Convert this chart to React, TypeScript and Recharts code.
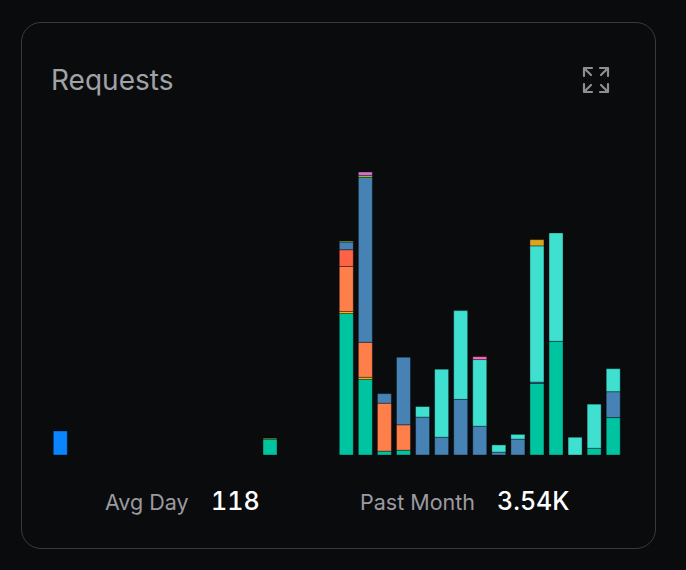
import React from 'react';
import { BarChart, XAxis, YAxis, Bar } from 'recharts';

// 30 days, only the last half has real traffic
const days = [
  'd1', 'd2', 'd3', 'd4', 'd5', 'd6', 'd7', 'd8', 'd9', 'd10',
  'd11', 'd12', 'd13', 'd14', 'd15', 'd16', 'd17', 'd18', 'd19', 'd20',
  'd21', 'd22', 'd23', 'd24', 'd25', 'd26', 'd27', 'd28', 'd29', 'd30',
];

const legacy = [50, 0, 0, 0, 0, 0, 0, 0, 0, 0, 0, 0, 0, 0, 0, 0, 0, 0, 0, 0, 0, 0, 0, 0, 0, 0, 0, 0, 0, 0];
const green = [0, 0, 0, 0, 0, 0, 0, 0, 0, 0, 0, 33, 0, 0, 0, 295, 158, 8, 10, 0, 0, 0, 0, 0, 0, 149, 237, 0, 14, 78];
const yellow = [0, 0, 0, 0, 0, 0, 0, 0, 0, 0, 0, 0, 0, 0, 0, 4, 4, 0, 0, 0, 0, 0, 0, 0, 0, 0, 0, 0, 0, 0];
const orange = [0, 0, 0, 0, 0, 0, 0, 0, 0, 0, 0, 0, 0, 0, 0, 94, 73, 100, 53, 0, 0, 0, 0, 0, 0, 0, 0, 0, 0, 0];
const red = [0, 0, 0, 0, 0, 0, 0, 0, 0, 0, 0, 0, 0, 0, 0, 35, 0, 0, 0, 0, 0, 0, 0, 0, 0, 0, 0, 0, 0, 0];
const steel = [0, 0, 0, 0, 0, 0, 0, 0, 0, 0, 0, 0, 0, 0, 0, 16, 344, 20, 141, 79, 37, 116, 60, 6, 33, 3, 0, 0, 0, 54];
const cyan = [0, 0, 0, 0, 0, 0, 0, 0, 0, 0, 0, 0, 0, 0, 0, 0, 0, 0, 0, 22, 142, 185, 139, 15, 10, 284, 226, 37, 92, 48];
const lime = [0, 0, 0, 0, 0, 0, 0, 0, 0, 0, 0, 2, 0, 0, 0, 2, 4, 0, 0, 0, 0, 0, 0, 0, 0, 0, 0, 0, 0, 0];
const orchid = [0, 0, 0, 0, 0, 0, 0, 0, 0, 0, 0, 0, 0, 0, 0, 0, 7, 0, 0, 0, 0, 0, 0, 0, 0, 0, 0, 0, 0, 0];
const pink = [0, 0, 0, 0, 0, 0, 0, 0, 0, 0, 0, 0, 0, 0, 0, 0, 0, 0, 0, 0, 0, 0, 6, 0, 0, 0, 0, 0, 0, 0];
const gold = [0, 0, 0, 0, 0, 0, 0, 0, 0, 0, 0, 0, 0, 0, 0, 0, 0, 0, 0, 0, 0, 0, 0, 0, 0, 13, 0, 0, 0, 0];

const series = [
  { key: 'legacy', color: '#0a84ff' },
  { key: 'green', color: '#00c3a0' },
  { key: 'yellow', color: '#ffc125' },
  { key: 'orange', color: '#ff7f4a' },
  { key: 'red', color: '#ff6347' },
  { key: 'steel', color: '#4682b4' },
  { key: 'cyan', color: '#40e0d0' },
  { key: 'lime', color: '#9acd32' },
  { key: 'orchid', color: '#da70d6' },
  { key: 'pink', color: '#ff69b4' },
  { key: 'gold', color: '#daa520' },
];

const data = days.map((day, i) => ({
  day,
  legacy: legacy[i],
  green: green[i],
  yellow: yellow[i],
  orange: orange[i],
  red: red[i],
  steel: steel[i],
  cyan: cyan[i],
  lime: lime[i],
  orchid: orchid[i],
  pink: pink[i],
  gold: gold[i],
}));

const font = 'Inter, "Noto Sans", sans-serif';

function ExpandIcon() {
  return (
    <svg width={30} height={30} viewBox="0 0 30 30" style={{ position: 'absolute', left: 581, top: 65 }}>
      <g stroke="#8e8e94" strokeWidth={2.2} fill="none" strokeLinecap="round" strokeLinejoin="round">
        <path d="M3 11 V3 H11 M3 3 L10 10" />
        <path d="M19 3 H27 V11 M27 3 L20 10" />
        <path d="M3 19 V27 H11 M3 27 L10 20" />
        <path d="M27 19 V27 H19 M27 27 L20 20" />
      </g>
    </svg>
  );
}

const label: React.CSSProperties = { position: 'absolute', top: 487, fontSize: 21.5, color: '#9a9aa0', lineHeight: '30px' };
const value: React.CSSProperties = {
  position: 'absolute',
  top: 485,
  fontSize: 25,
  fontWeight: 500,
  color: '#ffffff',
  lineHeight: '32px',
  fontVariantNumeric: 'tabular-nums',
};

export default function App() {
  return (
    <div style={{ position: 'relative', width: 686, height: 570, background: '#0a0b0d', fontFamily: font }}>
      <style>{`body{margin:0;background:#0a0b0d}`}</style>
      <div
        style={{
          position: 'absolute',
          left: 21,
          top: 22,
          width: 635,
          height: 527,
          boxSizing: 'border-box',
          border: '1px solid #3a3a3e',
          borderRadius: 20,
        }}
      />
      <div style={{ position: 'absolute', left: 51, top: 62, fontSize: 28, color: '#a1a1a8', lineHeight: '36px' }}>
        Requests
      </div>
      <ExpandIcon />
      <div style={{ position: 'absolute', left: 0, top: 0 }}>
        <BarChart
          width={686}
          height={570}
          data={data}
          margin={{ top: 172, right: 63, bottom: 115, left: 51 }}
          barCategoryGap="12%"
        >
          <XAxis dataKey="day" hide />
          <YAxis hide domain={[0, 'dataMax']} />
          {series.map((s) => (
            <Bar
              key={s.key}
              dataKey={s.key}
              stackId="a"
              fill={s.color}
              stroke="rgba(0,0,0,0.35)"
              strokeWidth={1}
              isAnimationActive={false}
            />
          ))}
        </BarChart>
      </div>
      <div style={{ ...label, left: 105 }}>Avg Day</div>
      <div style={{ ...value, left: 211 }}>118</div>
      <div style={{ ...label, left: 360 }}>Past Month</div>
      <div style={{ ...value, left: 497 }}>3.54K</div>
    </div>
  );
}
